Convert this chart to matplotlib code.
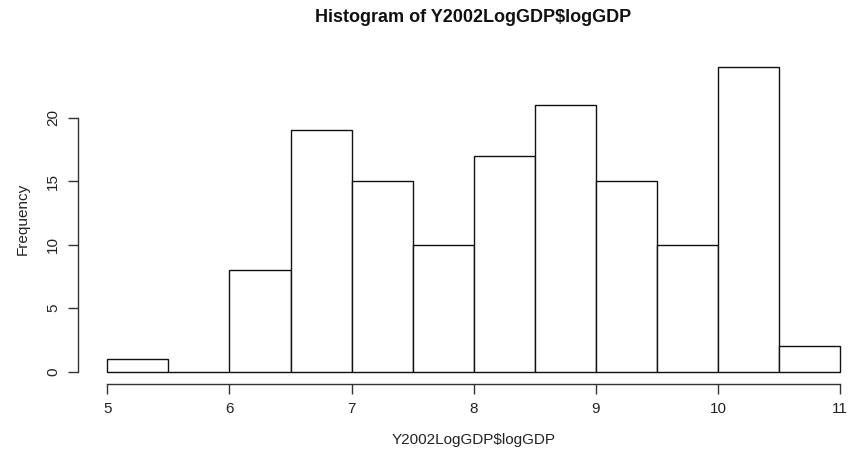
import numpy as np
import matplotlib.pyplot as plt

plt.rcParams['font.family'] = ['Liberation Sans', 'DejaVu Sans']

# histogram of Y2002LogGDP$logGDP
bin_edges = [5.0, 5.5, 6.0, 6.5, 7.0, 7.5, 8.0, 8.5, 9.0, 9.5, 10.0, 10.5, 11.0]
counts = [1, 0, 8, 19, 15, 10, 17, 21, 15, 10, 24, 2]
x_ticks = [5, 6, 7, 8, 9, 10, 11]
y_ticks = [0, 5, 10, 15, 20]

W, H = 851, 461
fig = plt.figure(figsize=(W / 100, H / 100), dpi=100)
ax = fig.add_axes([78 / W, (H - 384) / H, 791.6 / W, 329.5 / H])

edges = np.array(bin_edges)
ax.bar(edges[:-1], counts, width=np.diff(edges), align='edge',
       facecolor='white', edgecolor='#111111', linewidth=1.0)

ax.set_xlim(5 - 0.24, 11 + 0.24)
ax.set_ylim(-0.96, 24.96)

for s in ['top', 'right']:
    ax.spines[s].set_visible(False)
ax.spines['left'].set_bounds(0, 20)
ax.spines['bottom'].set_bounds(5, 11)
for s in ['left', 'bottom']:
    ax.spines[s].set_color('#333333')
    ax.spines[s].set_linewidth(1.0)

ax.set_xticks(x_ticks)
ax.set_yticks(y_ticks)
ax.tick_params(length=7, width=1.0, color='#333333', labelsize=11,
               labelcolor='#222222', pad=6)
ax.set_yticklabels([str(v) for v in y_ticks], rotation=90, va='center')

ax.set_xlabel('Y2002LogGDP$logGDP', fontsize=11, color='#222222', labelpad=12)
ax.set_ylabel('Frequency', fontsize=11, color='#222222', labelpad=12)
fig.text((78 + 869) / 2 / W, 1 - 18 / H, 'Histogram of Y2002LogGDP$logGDP',
         ha='center', va='center', fontsize=13, fontweight='bold', color='#111111')

fig.savefig('out.png', dpi=100)
